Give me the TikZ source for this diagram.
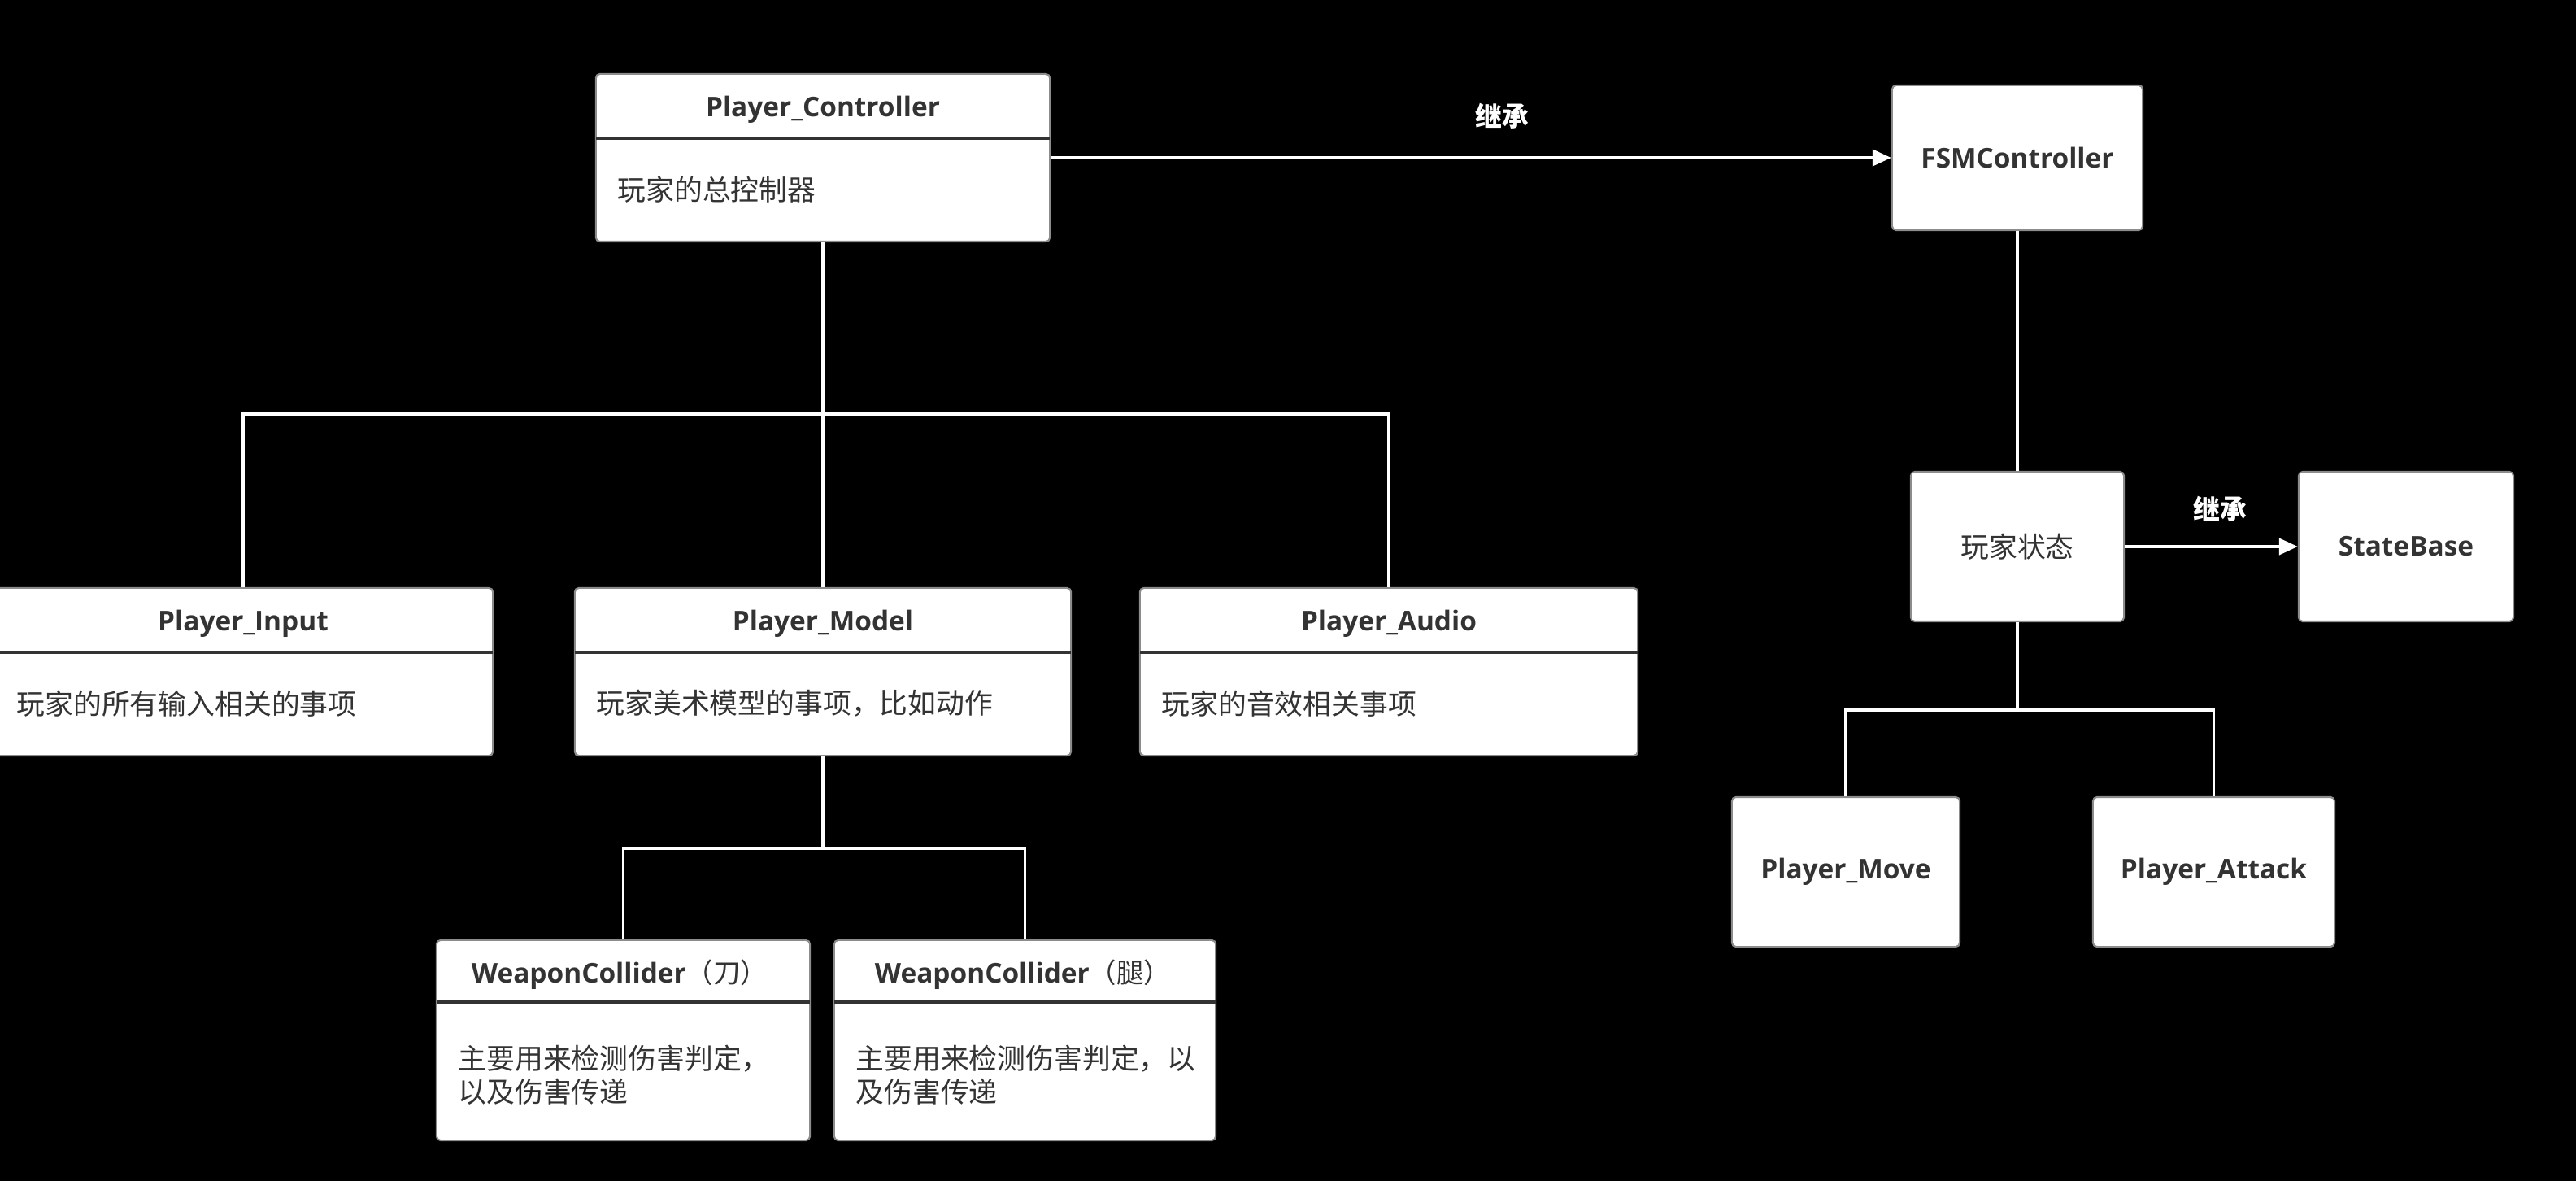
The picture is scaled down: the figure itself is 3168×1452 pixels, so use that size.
\documentclass[tikz,border=0pt]{standalone}
\usepackage{fontspec}
\setmainfont{Open Sans}
\newfontfamily\cjk{Noto Sans CJK SC}
\usetikzlibrary{arrows.meta}
\definecolor{txt}{HTML}{333333}
\begin{document}
\begin{tikzpicture}[x=0.01cm,y=-0.01cm,
  cbox/.style={draw=black!45, line width=0.6pt, fill=white, rounded corners=0.05cm, inner sep=0pt},
  ttl/.style={font=\fontsize{9.5}{11}\selectfont\bfseries, text=txt},
  bdy/.style={font=\fontsize{9.9}{11.6}\selectfont\cjk, text=txt, anchor=west, align=left, inner sep=0pt},
  div/.style={draw=txt, line width=1pt},
  conn/.style={draw=white, line width=1.1pt},
  arr/.style={conn, -{Triangle[length=0.23cm,width=0.2cm]}},
  lbl/.style={font=\fontsize{9.3}{11}\selectfont\cjk\bfseries, text=white}]
\fill[black] (0,0) rectangle (3168,1452);
\useasboundingbox (0,0) rectangle (3168,1452);

% Player_Controller
\node[cbox, minimum width=5.58cm, minimum height=2.06cm] (pc) at (1012,194) {};
\draw[div] (733,170) -- (1291,170);
\node[ttl] (pct) at (1012,135) {Player\_Controller};
\node[bdy] (pcb) at (759,233) {玩家的总控制器};

% Player_Input
\node[cbox, minimum width=6.14cm, minimum height=2.06cm] (pin) at (299,826) {};
\draw[div] (-8,802) -- (606,802);
\node[ttl] (pint) at (299,767) {Player\_Input};
\node[bdy] (pinb) at (20,865) {玩家的所有输入相关的事项};

% Player_Model
\node[cbox, minimum width=6.10cm, minimum height=2.06cm] (pmo) at (1012,826) {};
\draw[div] (707,802) -- (1317,802);
\node[ttl] (pmot) at (1012,767) {Player\_Model};
\node[bdy] (pmob) at (733,865) {玩家美术模型的事项，比如动作};

% Player_Audio
\node[cbox, minimum width=6.12cm, minimum height=2.06cm] (pau) at (1708,826) {};
\draw[div] (1402,802) -- (2014,802);
\node[ttl] (paut) at (1708,767) {Player\_Audio};
\node[bdy] (paub) at (1428,865) {玩家的音效相关事项};

% WeaponCollider 1
\node[cbox, minimum width=4.59cm, minimum height=2.46cm] (wc1) at (766.5,1279) {};
\draw[div] (537,1232) -- (996,1232);
\node[ttl] (wc1t) at (762,1198) {WeaponCollider{\cjk\mdseries （刀）}};
\node[bdy] (wc1b) at (563,1322) {主要用来检测伤害判定，\\以及伤害传递};

% WeaponCollider 2
\node[cbox, minimum width=4.69cm, minimum height=2.46cm] (wc2) at (1260.5,1279) {};
\draw[div] (1026,1232) -- (1495,1232);
\node[ttl] (wc2t) at (1258,1198) {WeaponCollider{\cjk\mdseries （腿）}};
\node[bdy] (wc2b) at (1052,1322) {主要用来检测伤害判定，以\\及伤害传递};

% right side
\node[cbox, ttl, minimum width=3.08cm, minimum height=1.78cm] (fsm) at (2481,194) {FSMController};
\node[cbox, font=\fontsize{9.9}{11}\selectfont\cjk, text=txt, minimum width=2.62cm, minimum height=1.84cm] (st) at (2481,672) {玩家状态};
\node[cbox, ttl, minimum width=2.64cm, minimum height=1.84cm] (sb) at (2959,672) {StateBase};
\node[cbox, ttl, minimum width=2.80cm, minimum height=1.84cm] (mv) at (2270,1072) {Player\_Move};
\node[cbox, ttl, minimum width=2.97cm, minimum height=1.84cm] (at) at (2722.5,1072) {Player\_Attack};

% connectors
\draw[arr] (pc.east) -- (fsm.west);
\node[lbl] (l1) at (1847,143) {继承};
\draw[arr] (st.east) -- (sb.west);
\node[lbl] (l2) at (2730,626) {继承};

\coordinate (j1) at (1012,509);
\draw[conn] (pc.south) -- (j1) -| (pin.north);
\draw[conn] (j1) -| (pau.north);
\draw[conn] (j1) -- (pmo.north);

\coordinate (j2) at (1012,1043);
\draw[conn] (pmo.south) -- (j2) -| (wc1.north);
\draw[conn] (j2) -| (wc2.north);

\draw[conn] (fsm.south) -- (st.north);
\coordinate (j3) at (2481,873);
\draw[conn] (st.south) -- (j3) -| (mv.north);
\draw[conn] (j3) -| (at.north);
\end{tikzpicture}
\end{document}
